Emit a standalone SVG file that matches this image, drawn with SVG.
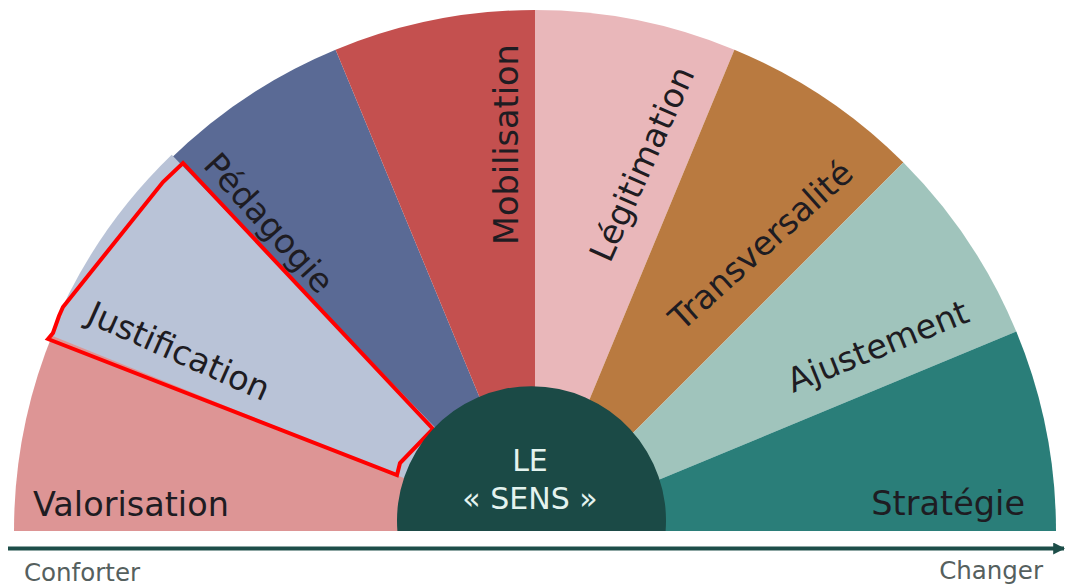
<svg xmlns="http://www.w3.org/2000/svg" width="1066" height="587" viewBox="0 0 1066 587">
<style>
.lbl{font-family:"DejaVu Sans","Liberation Sans",sans-serif;font-size:33.5px;fill:#1e1c22}
.ctr{font-family:"DejaVu Sans","Liberation Sans",sans-serif;font-size:30px;fill:#e4f3ef;text-anchor:middle}
.axis{font-family:"DejaVu Sans","Liberation Sans",sans-serif;font-size:24.5px;fill:#55605e}
</style>
<defs>
<marker id="arr" viewBox="0 0 10 10" refX="9" refY="5" markerWidth="3" markerHeight="3" orient="auto" markerUnits="strokeWidth">
<path d="M0,0 L10,5 L0,10 Z" fill="#1d4e49"/>
</marker>
</defs>
<rect width="1066" height="587" fill="#ffffff"/>
<g id="valorisation">
<path d="M535,531 L14,531 A521,521 0 0 1 53.7,331.6 Z" fill="#dd9595"/>
<text class="lbl" x="33" y="516">Valorisation</text>
</g>
<g id="pedagogie">
<path d="M535,531 L166.6,162.6 A521,521 0 0 1 335.6,49.7 Z" fill="#5a6a95"/>
<text class="lbl" transform="translate(202,166) rotate(48)">Pédagogie</text>
</g>
<g id="justification">
<path d="M535,531 L50.1,335.1 A523,523 0 0 1 171.7,154.8 Z" fill="#b9c3d7"/>
<text class="lbl" transform="translate(85,322) rotate(24)">Justification</text>
</g>
<g id="mobilisation">
<path d="M535,531 L335.6,49.7 A521,521 0 0 1 535,10 Z" fill="#c4504f"/>
<text class="lbl" transform="translate(518,245) rotate(-90)">Mobilisation</text>
</g>
<g id="legitimation">
<path d="M535,531 L535,10 A521,521 0 0 1 734.4,49.7 Z" fill="#e9b7ba"/>
<text class="lbl" transform="translate(610,264) rotate(-66)">Légitimation</text>
</g>
<g id="transversalite">
<path d="M535,531 L734.4,49.7 A521,521 0 0 1 903.4,162.6 Z" fill="#b97a40"/>
<text class="lbl" transform="translate(682,332) rotate(-42)">Transversalité</text>
</g>
<g id="ajustement">
<path d="M535,531 L903.4,162.6 A521,521 0 0 1 1016.3,331.6 Z" fill="#a0c4bc"/>
<text class="lbl" transform="translate(793,393) rotate(-22)">Ajustement</text>
</g>
<g id="strategie">
<path d="M535,531 L1016.3,331.6 A521,521 0 0 1 1056,531 Z" fill="#2a7e79"/>
<text class="lbl" x="1025" y="515" text-anchor="end">Stratégie</text>
</g>
<g id="highlight">
<path d="M48,339 L53,333 L59,316 L63,307 L163,182 L183,163 L433,429 L400,463 L397,475 Z" fill="none" stroke="#ff0000" stroke-width="4" stroke-linejoin="miter"/>
</g>
<g id="le-sens">
<path d="M397.4,531 A134.5,134.5 0 1 1 665.6,531 Z" fill="#1b4a46"/>
<text class="ctr" x="530" y="471">LE</text>
<text class="ctr" x="530" y="509">« SENS »</text>
</g>
<g id="connectors">
<line x1="8" y1="548.5" x2="1064" y2="548.5" stroke="#1d4e49" stroke-width="4" marker-end="url(#arr)"/>
</g>
<g id="axis-labels">
<text class="axis" x="24" y="581">Conforter</text>
<text class="axis" x="1043" y="579" text-anchor="end">Changer</text>
</g>
</svg>
